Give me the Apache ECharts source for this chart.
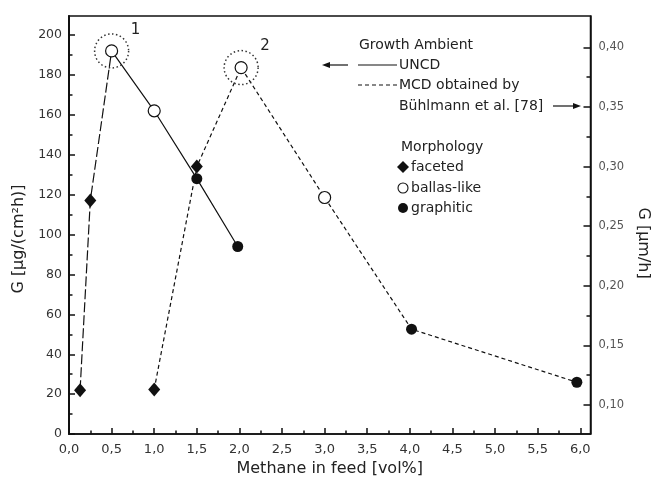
<!DOCTYPE html>
<html>
<head>
<meta charset="utf-8">
<script src="https://cdn.jsdelivr.net/npm/echarts@6/dist/echarts.min.js"></script>
<style>
  html, body { margin: 0; padding: 0; background: #fff; }
  #chart { width: 659px; height: 482px; }
</style>
</head>
<body>
<div id="chart"></div>
<script>
// Methane concentration in the feed gas [vol%]
const methaneUNCD = [0.13, 0.25, 0.5, 1.0, 1.5, 1.98];
// UNCD growth rate in µg/(cm²h), left axis
const growthUNCD = [22, 117, 192, 162, 128, 94];
const morphUNCD = ['faceted', 'faceted', 'ballas', 'ballas', 'graphitic', 'graphitic'];
// UNCD points up to this index are joined by a long-dashed line
const uncdDashedEnd = 2;

const methaneMCD = [1.0, 1.5, 2.02, 3.0, 4.02, 5.96];
// MCD growth rate in µm/h (Bühlmann et al.), right axis
const growthMCD = [0.113, 0.300, 0.383, 0.274, 0.1635, 0.119];
const morphMCD = ['faceted', 'faceted', 'ballas', 'ballas', 'graphitic', 'graphitic'];

// Maxima marked with dotted rings
const peakIndexUNCD = 2;
const peakIndexMCD = 2;
const peakLabels = ['1', '2'];

// Axis ticks
const xTicks = [0, 0.5, 1.0, 1.5, 2.0, 2.5, 3.0, 3.5, 4.0, 4.5, 5.0, 5.5, 6.0];
const xMinorTicks = [0.25, 0.75, 1.25, 1.75, 2.25, 2.75, 3.25, 3.75, 4.25, 4.75, 5.25, 5.75];
const leftTicks = [0, 20, 40, 60, 80, 100, 120, 140, 160, 180, 200];
const leftMinorTicks = [10, 30, 50, 70, 90, 110, 130, 150, 170, 190];
const rightTicks = [0.10, 0.15, 0.20, 0.25, 0.30, 0.35, 0.40];
const rightMinorTicks = [0.125, 0.175, 0.225, 0.275, 0.325, 0.375];

const INK = '#111';
const FONT = 'DejaVu Sans';

const morphStyle = {
  faceted:   { symbol: 'diamond', symbolSize: [12, 14], itemStyle: { color: INK, opacity: 1 } },
  ballas:    { symbol: 'circle', symbolSize: 12, itemStyle: { color: '#fff', borderColor: INK, borderWidth: 1.2, opacity: 1 } },
  graphitic: { symbol: 'circle', symbolSize: 11, itemStyle: { color: INK, opacity: 1 } }
};

function pts(xs, ys, from, to) {
  const out = [];
  for (let i = from; i <= to; i++) out.push([xs[i], ys[i]]);
  return out;
}
function markers(xs, ys, morph) {
  return xs.map((x, i) => Object.assign({ value: [x, ys[i]] }, morphStyle[morph[i]]));
}
const comma = (v, d) => v.toFixed(d).replace('.', ',');

const tickLine = { color: INK, width: 1.5 };
const baseAxisLine = { show: true, onZero: false, lineStyle: { color: INK, width: 1.5 } };
const ringStyle = { color: 'transparent', borderColor: '#333', borderWidth: 1.5, borderType: [1.5, 2.5], opacity: 1 };

const option = {
  animation: false,
  backgroundColor: '#fff',
  grid: {
    left: 69, right: 59, top: 16, bottom: 44,
    show: true, borderColor: INK, borderWidth: 1.5, backgroundColor: 'transparent'
  },
  xAxis: [
    {
      type: 'value', position: 'bottom', min: 0, max: 6.12,
      axisLine: baseAxisLine,
      axisTick: { show: true, inside: true, length: 6, lineStyle: tickLine, customValues: xTicks },
      axisLabel: { customValues: xTicks, formatter: v => comma(v, 1), color: '#333', fontFamily: FONT, fontSize: 13, margin: 9 },
      splitLine: { show: false },
      name: 'Methane in feed [vol%]', nameLocation: 'middle', nameGap: 25,
      nameTextStyle: { color: '#222', fontFamily: FONT, fontSize: 16 }
    },
    {
      type: 'value', position: 'bottom', min: 0, max: 6.12,
      axisLine: { show: false, onZero: false },
      axisTick: { show: true, inside: true, length: 3.5, lineStyle: tickLine, customValues: xMinorTicks },
      axisLabel: { show: false },
      splitLine: { show: false }
    }
  ],
  yAxis: [
    {
      type: 'value', position: 'left', min: 0, max: 209.5,
      axisLine: { show: true, onZero: false, lineStyle: { color: INK, width: 2 } },
      axisTick: { show: true, inside: true, length: 6, lineStyle: tickLine, customValues: leftTicks },
      axisLabel: { customValues: leftTicks, color: '#333', fontFamily: FONT, fontSize: 12.5, margin: 7 },
      splitLine: { show: false },
      name: 'G [µg/(cm²h)]', nameLocation: 'middle', nameGap: 39,
      nameTextStyle: { color: '#222', fontFamily: FONT, fontSize: 16, padding: [0, 28, 0, 0] }
    },
    {
      type: 'value', position: 'right', min: 0.0755, max: 0.4263,
      axisLine: baseAxisLine,
      axisTick: { show: true, inside: true, length: 7, lineStyle: tickLine, customValues: rightTicks },
      axisLabel: { customValues: rightTicks, formatter: v => comma(v, 2), color: '#555', fontFamily: FONT, fontSize: 11.5, margin: 8 },
      splitLine: { show: false },
      name: 'G [µm/h]', nameLocation: 'middle', nameGap: 42, nameRotate: -90,
      nameTextStyle: { color: '#222', fontFamily: FONT, fontSize: 16, padding: [0, 0, 0, 36] }
    },
    {
      type: 'value', position: 'left', min: 0, max: 209.5,
      axisLine: { show: false, onZero: false },
      axisTick: { show: true, inside: true, length: 3.5, lineStyle: tickLine, customValues: leftMinorTicks },
      axisLabel: { show: false },
      splitLine: { show: false }
    },
    {
      type: 'value', position: 'right', min: 0.0755, max: 0.4263,
      axisLine: { show: false, onZero: false },
      axisTick: { show: true, inside: true, length: 4, lineStyle: tickLine, customValues: rightMinorTicks },
      axisLabel: { show: false },
      splitLine: { show: false }
    }
  ],
  series: [
    {
      name: 'UNCD rise', type: 'line', yAxisIndex: 0, symbol: 'none', z: 2,
      data: pts(methaneUNCD, growthUNCD, 0, uncdDashedEnd),
      lineStyle: { color: INK, width: 1.2, type: [10, 3] }
    },
    {
      name: 'UNCD', type: 'line', yAxisIndex: 0, symbol: 'none', z: 2,
      data: pts(methaneUNCD, growthUNCD, uncdDashedEnd, methaneUNCD.length - 1),
      lineStyle: { color: INK, width: 1.2, type: 'solid' }
    },
    {
      name: 'MCD', type: 'line', yAxisIndex: 1, symbol: 'none', z: 2,
      data: pts(methaneMCD, growthMCD, 0, methaneMCD.length - 1),
      lineStyle: { color: INK, width: 1.2, type: [4, 3] }
    },
    {
      name: 'UNCD morphology', type: 'scatter', yAxisIndex: 0, z: 4,
      data: markers(methaneUNCD, growthUNCD, morphUNCD)
    },
    {
      name: 'MCD morphology', type: 'scatter', yAxisIndex: 1, z: 4,
      data: markers(methaneMCD, growthMCD, morphMCD)
    },
    {
      name: 'UNCD maximum', type: 'scatter', yAxisIndex: 0, z: 3,
      symbol: 'circle', symbolSize: 34, itemStyle: ringStyle,
      label: { show: true, position: 'inside', offset: [24, -21], formatter: peakLabels[0], color: '#222', fontFamily: FONT, fontSize: 15 },
      data: [[methaneUNCD[peakIndexUNCD], growthUNCD[peakIndexUNCD]]]
    },
    {
      name: 'MCD maximum', type: 'scatter', yAxisIndex: 1, z: 3,
      symbol: 'circle', symbolSize: 34, itemStyle: ringStyle,
      label: { show: true, position: 'inside', offset: [24, -21], formatter: peakLabels[1], color: '#222', fontFamily: FONT, fontSize: 15 },
      data: [[methaneMCD[peakIndexMCD], growthMCD[peakIndexMCD]]]
    }
  ],
  graphic: [
    // key: growth ambient
    { type: 'text', left: 359, top: 38, style: { text: 'Growth Ambient', fill: '#222', font: '14px "DejaVu Sans"' } },
    { type: 'line', shape: { x1: 327, y1: 65, x2: 348, y2: 65 }, style: { stroke: INK, lineWidth: 1.2 } },
    { type: 'polygon', shape: { points: [[322, 65], [330, 62], [330, 68]] }, style: { fill: INK } },
    { type: 'line', shape: { x1: 358, y1: 65, x2: 397, y2: 65 }, style: { stroke: INK, lineWidth: 1.2 } },
    { type: 'text', left: 399, top: 58, style: { text: 'UNCD', fill: '#222', font: '14px "DejaVu Sans"' } },
    { type: 'line', shape: { x1: 358, y1: 85, x2: 397, y2: 85 }, style: { stroke: INK, lineWidth: 1.2, lineDash: [4, 3] } },
    { type: 'text', left: 399, top: 78, style: { text: 'MCD obtained by', fill: '#222', font: '14px "DejaVu Sans"' } },
    { type: 'text', left: 399, top: 99, style: { text: 'Bühlmann et al. [78]', fill: '#222', font: '14px "DejaVu Sans"' } },
    { type: 'line', shape: { x1: 553, y1: 106, x2: 575, y2: 106 }, style: { stroke: INK, lineWidth: 1.2 } },
    { type: 'polygon', shape: { points: [[581, 106], [573, 103], [573, 109]] }, style: { fill: INK } },
    // key: morphology
    { type: 'text', left: 401, top: 140, style: { text: 'Morphology', fill: '#222', font: '14px "DejaVu Sans"' } },
    { type: 'polygon', shape: { points: [[403, 161], [409, 167], [403, 173], [397, 167]] }, style: { fill: INK } },
    { type: 'text', left: 411, top: 160, style: { text: 'faceted', fill: '#222', font: '14px "DejaVu Sans"' } },
    { type: 'circle', shape: { cx: 403, cy: 188, r: 5 }, style: { fill: '#fff', stroke: INK, lineWidth: 1.1 } },
    { type: 'text', left: 411, top: 181, style: { text: 'ballas-like', fill: '#222', font: '14px "DejaVu Sans"' } },
    { type: 'circle', shape: { cx: 403, cy: 208, r: 5 }, style: { fill: INK } },
    { type: 'text', left: 411, top: 201, style: { text: 'graphitic', fill: '#222', font: '14px "DejaVu Sans"' } }
  ]
};

const chart = echarts.init(document.getElementById('chart'), null, { renderer: 'canvas' });
chart.setOption(option);
</script>
</body>
</html>
